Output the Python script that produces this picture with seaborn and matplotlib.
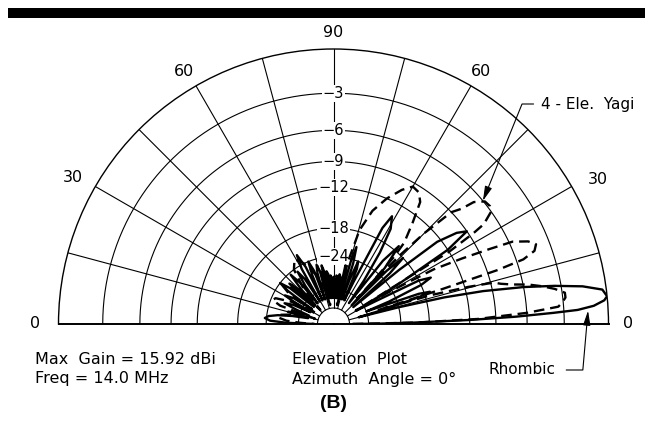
import numpy as np
import pandas as pd
import matplotlib
matplotlib.use("Agg")
import matplotlib.pyplot as plt
from matplotlib.patches import Rectangle
import seaborn as sns

# ---- grid of the ARRL log-periodic chart ----
ring_db = [-3, -6, -9, -12, -18, -24]
ring_labels = ["\u22123", "\u22126", "\u22129", "\u221212", "\u221218", "\u221224"]
inner_ring_db = [-35, -48]
spoke_deg = [15, 30, 45, 60, 75, 90, 105, 120, 135, 150, 165]
angle_label_deg = [0, 28.6, 59.6, 90, 120.6, 150.7, 180]
angle_label_db = [1.2, 1.55, 1.05, 0.97, 1.08, 1.45, 1.4]
angle_labels = ["0", "30", "60", "90", "60", "30", "0"]

# ---- elevation patterns, dB relative to the 15.92 dBi maximum ----
rhombic_deg = [0, 0.5, 1, 1.7, 2.3, 2.9, 3.3, 4, 5, 5.8, 7.3, 8.6, 9.8, 11, 12.4, 13.5, 14.4, 15,
               16, 17.5, 18.5, 19.5, 21, 22, 24, 25.5, 27, 28.5, 30.5,
               31.5, 33, 34.8, 36.5, 38.4, 39.5, 40.5,
               42, 43.5, 45, 46, 47.5, 50, 52, 53.5,
               55, 57, 59, 61.5, 63, 64.5, 65.5,
               67, 68.5, 70, 71, 72, 73.4, 74.5, 75.5,
               77, 78.5, 80, 81.5, 83, 84, 85.5, 86.5, 88, 89, 90, 91,
               92, 93.5, 95, 96, 97.5, 99, 100, 101.5, 103,
               104, 106, 107.5, 109, 110, 112, 113.5, 115,
               116, 118, 120, 121, 122.5, 124.5, 126.5, 127.5,
               129, 131, 133, 134, 135.5, 137.5, 139,
               140.5, 142.5, 144, 145.5, 147, 149.5, 151.5, 153,
               154.5, 157, 159, 161, 162.5, 165, 167,
               169, 171, 173, 175, 177, 178.5, 180]
rhombic_db = [-45, -30, -21, -12, -7, -3.8, -2, -0.9, -0.2, 0, -0.25, -1.5, -3.5, -6, -10, -15, -24, -40,
              -28, -19, -17, -19, -35, -26, -18, -16, -18, -30, -40,
              -22, -12, -9, -10, -12.5, -20, -40,
              -22, -18, -22, -40, -22, -17, -21, -40,
              -28, -20, -15.5, -13.8, -16, -30, -40,
              -26, -24, -30, -40, -25, -21, -24, -40,
              -28, -26, -40, -30, -29, -40, -30, -29.5, -40, -32, -30, -40,
              -31, -29.5, -40, -29, -28, -40, -28, -26, -40,
              -28, -25.5, -28, -40, -27, -24, -28, -40,
              -25, -21.5, -25, -40, -28, -25, -30, -40,
              -28, -24.5, -30, -40, -29, -26, -40,
              -27, -24, -27, -40, -30, -27, -32, -40,
              -31, -28, -33, -40, -33, -30, -40,
              -32, -27, -24.5, -23.6, -25, -30, -45]

yagi_deg = [0, 1, 2, 3.3, 4.4, 5.3, 6.5, 7.7, 9, 10.2, 11.4, 12.5, 13.5, 14.5, 15.4, 16.5, 17.3,
            17.8, 18.2, 18.8, 20, 21.5, 23, 24.7, 25.7, 27, 28.6, 30, 31,
            32, 33, 33.6, 35.5, 37, 39, 41, 42, 43.5, 45, 46, 47,
            47.5, 48, 49, 52, 54.6, 57, 60, 63, 67, 71, 74.5, 77, 79,
            85, 90, 95, 100, 104, 110, 116, 121, 126, 130, 133,
            136, 140, 143, 146, 149, 152, 156, 158.5, 161, 164,
            167, 170, 173, 176, 178, 180]
yagi_db = [-45, -20, -11, -6, -3.4, -3.1, -2.8, -2.8, -3.5, -4.4, -5.5, -7, -8, -8.7, -11.6, -17, -30,
           -15, -8, -5.4, -4.3, -4, -4.5, -5.7, -8, -11, -15, -25, -40,
           -12, -8.5, -7.2, -6, -5.8, -5.9, -6.7, -8, -9, -13, -18, -35,
           -25, -19, -16, -13, -10.4, -9.6, -9.4, -10.3, -12, -14.2, -17.7, -25, -45,
           -35, -33, -35, -45, -35, -28, -24, -22, -24, -30, -45,
           -32, -26, -25, -28, -45, -30, -25, -24.5, -27, -45,
           -32, -28, -27, -30, -36, -45]


def arrl_forward(db):
    # ARRL scale: every 2 dB shrinks the radius by a factor of 0.89
    return 0.89 ** (-np.asarray(db, dtype=float) / 2.0)


def arrl_inverse(r):
    r = np.clip(np.asarray(r, dtype=float), 1e-12, None)
    return -2.0 * np.log(r) / np.log(0.89)


df = pd.concat([
    pd.DataFrame({"theta": np.deg2rad(rhombic_deg), "gain": rhombic_db, "antenna": "Rhombic"}),
    pd.DataFrame({"theta": np.deg2rad(yagi_deg), "gain": yagi_db, "antenna": "4 - Ele. Yagi"}),
], ignore_index=True)

sns.set_style("white")
plt.rcParams["font.family"] = ["DejaVu Sans"]
plt.rcParams["text.color"] = "black"

W, H = 652, 426
fig = plt.figure(figsize=(W / 100, H / 100), dpi=100)
cx, cy, R = 333.5, 324, 275
# polar axes keep a square box; the half disc sits in its middle band
ax = fig.add_axes([(cx - R) / W, (H - (cy + 0.5 * R)) / H, 2 * R / W, 2 * R / H],
                  projection="polar")
ax.set_thetamin(0)
ax.set_thetamax(180)
ax.set_rscale("function", functions=(arrl_forward, arrl_inverse))

# pattern curves
sns.lineplot(data=df, x="theta", y="gain", style="antenna",
             dashes={"Rhombic": "", "4 - Ele. Yagi": (4.5, 2.5)},
             color="black", linewidth=1.7, sort=False, estimator=None,
             legend=False, ax=ax, zorder=4)

# rings and spokes
arc = np.linspace(0, np.pi, 361)
for d in ring_db + inner_ring_db:
    ax.plot(arc, np.full_like(arc, d), color="black", lw=0.8, zorder=1)
for s in spoke_deg:
    t = np.deg2rad(s)
    ax.plot([t, t], [inner_ring_db[-1], 0], color="black", lw=0.8, zorder=1)

ax.set_rlim(-100, 0)
ax.set_xticks([])
ax.set_yticks([])
ax.grid(False)
ax.set_xlabel("")
ax.set_ylabel("")
for name, lw in (("polar", 1.0), ("start", 1.4), ("end", 1.4)):
    ax.spines[name].set_linewidth(lw)
    ax.spines[name].set_color("black")
ax.spines["inner"].set_visible(False)

# ring values along the vertical spoke
for d, lab in zip(ring_db, ring_labels):
    ax.text(np.pi / 2, d, lab, ha="center", va="center", fontsize=10.5, zorder=2,
            color="black", bbox=dict(facecolor="white", edgecolor="none", pad=0.6))

# elevation angle labels
for a, rr, lab in zip(angle_label_deg, angle_label_db, angle_labels):
    ax.text(np.deg2rad(a), rr, lab, ha="center", va="center", fontsize=11.5, color="black")

# leaders
ax.annotate("4 - Ele.  Yagi", xy=(np.deg2rad(39.5), -6), xycoords="data",
            xytext=(541, H - 104), textcoords="figure pixels",
            ha="left", va="center", fontsize=11, color="black",
            arrowprops=dict(arrowstyle="-|>,head_length=0.8,head_width=0.2", color="black", lw=0.8,
                            connectionstyle="angle,angleA=0,angleB=68,rad=0",
                            shrinkA=3, shrinkB=0))
ax.annotate("Rhombic", xy=(np.deg2rad(3.0), -1.3), xycoords="data",
            xytext=(556, H - 370), textcoords="figure pixels",
            ha="right", va="center", fontsize=11, color="black",
            arrowprops=dict(arrowstyle="-|>,head_length=0.8,head_width=0.2", color="black", lw=0.8,
                            connectionstyle="angle,angleA=0,angleB=-95,rad=0",
                            shrinkA=5, shrinkB=0))

# header bar and captions
fig.add_artist(Rectangle((8 / W, (H - 18) / H), 637 / W, 10 / H, transform=fig.transFigure,
                         facecolor="black", edgecolor="none"))
fig.text(35 / W, 1 - 360 / H, "Max  Gain = 15.92 dBi", fontsize=11.5, va="center")
fig.text(35 / W, 1 - 379 / H, "Freq = 14.0 MHz", fontsize=11.5, va="center")
fig.text(292 / W, 1 - 360 / H, "Elevation  Plot", fontsize=11.5, va="center")
fig.text(292 / W, 1 - 379 / H, "Azimuth  Angle = 0\u00b0", fontsize=11.5, va="center")
fig.text(cx / W, 1 - 404 / H, "(B)", fontsize=14, fontweight="bold", ha="center", va="center",
         family=["Liberation Sans", "DejaVu Sans"])

fig.savefig("out.png", dpi=100)
